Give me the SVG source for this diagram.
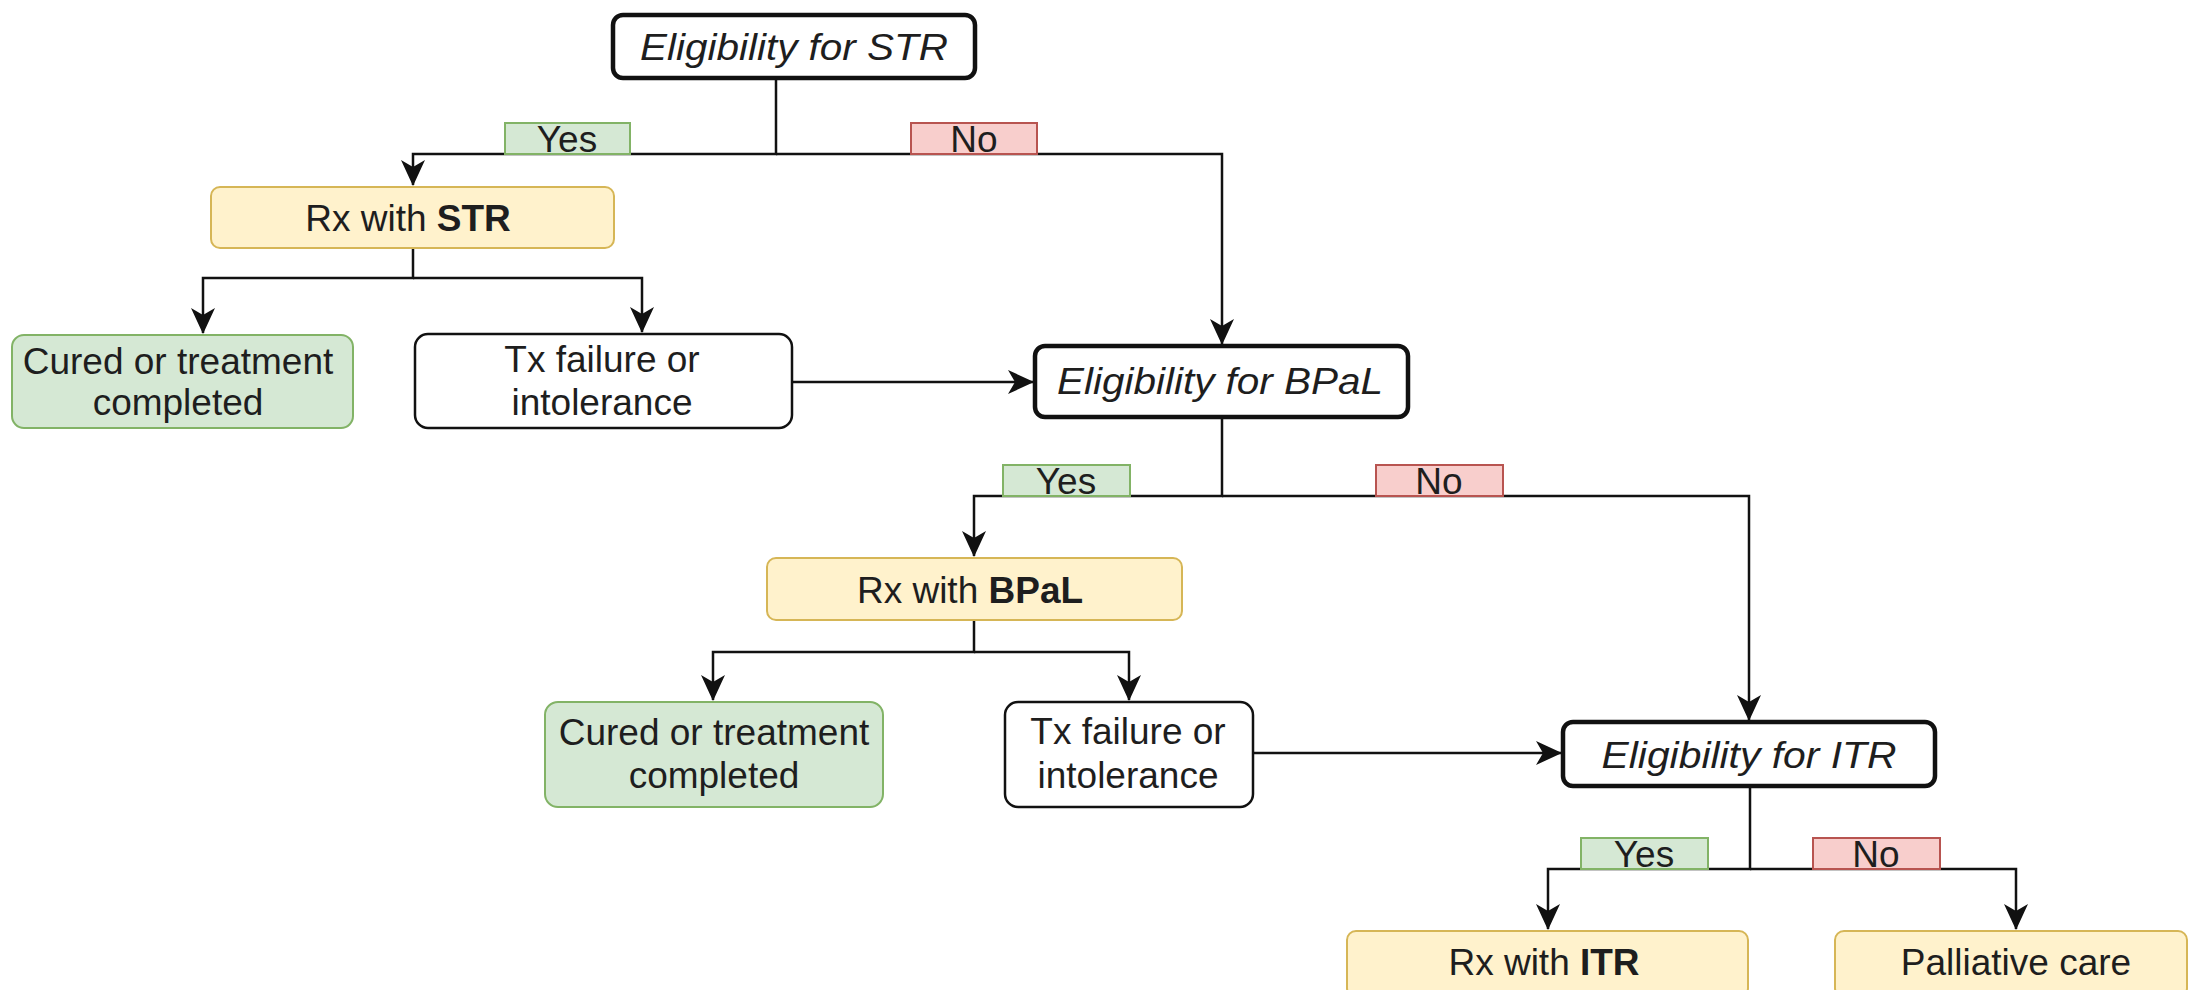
<svg xmlns="http://www.w3.org/2000/svg" width="2190" height="990" viewBox="0 0 2190 990">
<style>
text{font-family:"Liberation Sans",Arial,sans-serif;fill:#1e1e1e;font-size:37px;text-anchor:middle}
.elig rect{fill:#fff;stroke:#111;stroke-width:4.5}
.elig text{font-style:italic}
.rx rect{fill:#fff2cc;stroke:#d6b656;stroke-width:2}
.cured rect{fill:#d5e8d4;stroke:#82b366;stroke-width:2}
.fail rect{fill:#fff;stroke:#111;stroke-width:2.5}
.yes{fill:#d5e8d4;stroke:#82b366;stroke-width:2}
.no{fill:#f8cecc;stroke:#b85450;stroke-width:2}
.c{fill:none;stroke:#111;stroke-width:2.5;stroke-linejoin:miter}
.a{marker-end:url(#arr)}
</style>
<defs>
<marker id="arr" viewBox="0 0 26 24" refX="25" refY="12" markerWidth="26" markerHeight="24" markerUnits="userSpaceOnUse" orient="auto">
<path d="M0,0 L26,12 L0,24 L7,12 Z" fill="#111"/>
</marker>
</defs>

<g id="connectors">
<path class="c a" d="M776,78 V154 H413 V185"/>
<path class="c a" d="M776,154 H1222 V344"/>
<path class="c a" d="M413,248 V278 H203 V333"/>
<path class="c a" d="M413,278 H642 V332"/>
<path class="c a" d="M792,382 H1033"/>
<path class="c a" d="M1222,417 V496 H974 V556"/>
<path class="c a" d="M1222,496 H1749 V720"/>
<path class="c a" d="M974,620 V652 H713 V700"/>
<path class="c a" d="M974,652 H1129 V700"/>
<path class="c a" d="M1253,753 H1561"/>
<path class="c a" d="M1750,786 V869 H1548 V929"/>
<path class="c a" d="M1750,869 H2016 V929"/>
</g>

<g id="edge-labels">
<g id="lbl-str-yes"><rect class="yes" x="505" y="123" width="125" height="31"/><text x="567" y="152">Yes</text></g>
<g id="lbl-str-no"><rect class="no" x="911" y="123" width="126" height="31"/><text x="974" y="152">No</text></g>
<g id="lbl-bpal-yes"><rect class="yes" x="1003" y="465" width="127" height="31"/><text x="1066" y="494">Yes</text></g>
<g id="lbl-bpal-no"><rect class="no" x="1376" y="465" width="127" height="31"/><text x="1439" y="494">No</text></g>
<g id="lbl-itr-yes"><rect class="yes" x="1581" y="838" width="127" height="31"/><text x="1644" y="867">Yes</text></g>
<g id="lbl-itr-no"><rect class="no" x="1813" y="838" width="127" height="31"/><text x="1876" y="867">No</text></g>
</g>

<g id="elig-str" class="elig"><rect x="613" y="15" width="362" height="63" rx="10"/><text x="794" y="60" textLength="308" lengthAdjust="spacingAndGlyphs">Eligibility for STR</text></g>
<g id="rx-str" class="rx"><rect x="211" y="187" width="403" height="61" rx="9"/><text x="408" y="231">Rx with <tspan font-weight="bold">STR</tspan></text></g>
<g id="cured-1" class="cured"><rect x="12" y="335" width="341" height="93" rx="12"/><text x="178" y="374">Cured or treatment</text><text x="178" y="415">completed</text></g>
<g id="fail-1" class="fail"><rect x="415" y="334" width="377" height="94" rx="13"/><text x="602" y="372">Tx failure or</text><text x="602" y="415">intolerance</text></g>
<g id="elig-bpal" class="elig"><rect x="1035" y="346" width="373" height="71" rx="10"/><text x="1220" y="394" textLength="326" lengthAdjust="spacingAndGlyphs">Eligibility for BPaL</text></g>
<g id="rx-bpal" class="rx"><rect x="767" y="558" width="415" height="62" rx="9"/><text x="970" y="603">Rx with <tspan font-weight="bold">BPaL</tspan></text></g>
<g id="cured-2" class="cured"><rect x="545" y="702" width="338" height="105" rx="13"/><text x="714" y="745">Cured or treatment</text><text x="714" y="788">completed</text></g>
<g id="fail-2" class="fail"><rect x="1005" y="702" width="248" height="105" rx="13"/><text x="1128" y="744">Tx failure or</text><text x="1128" y="788">intolerance</text></g>
<g id="elig-itr" class="elig"><rect x="1563" y="722" width="372" height="64" rx="10"/><text x="1749" y="768" textLength="295" lengthAdjust="spacingAndGlyphs">Eligibility for ITR</text></g>
<g id="rx-itr" class="rx"><rect x="1347" y="931" width="401" height="66" rx="9"/><text x="1544" y="975">Rx with <tspan font-weight="bold">ITR</tspan></text></g>
<g id="palliative" class="rx"><rect x="1835" y="931" width="352" height="66" rx="9"/><text x="2016" y="975">Palliative care</text></g>
</svg>
